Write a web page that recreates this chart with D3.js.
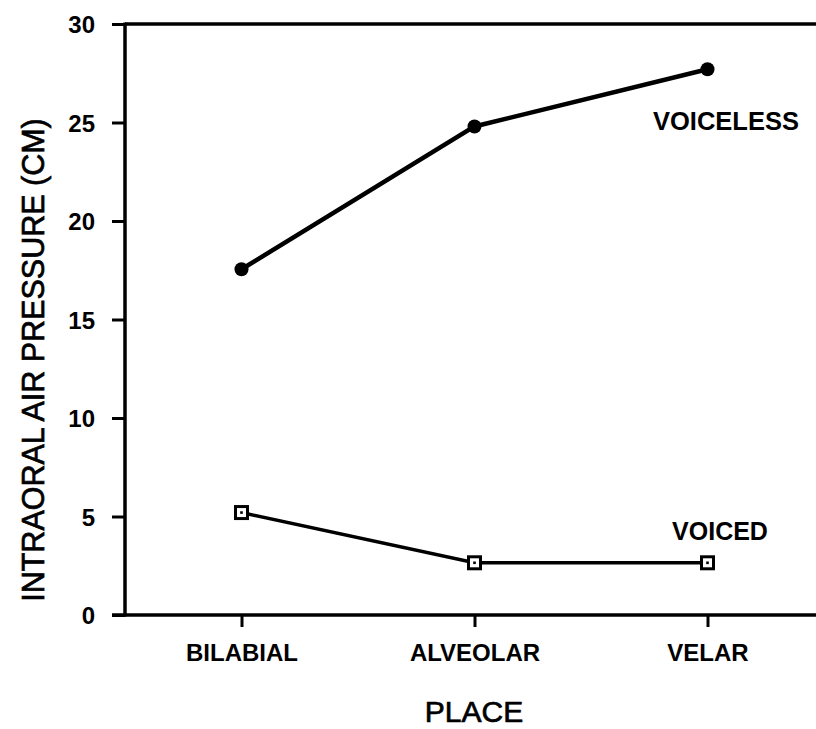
<!DOCTYPE html>
<html>
<head>
<meta charset="utf-8">
<script src="https://cdn.jsdelivr.net/npm/d3@7"></script>
<style>
  body { margin: 0; background: #fff; }
  text { font-family: "Liberation Sans", Arial, Helvetica, sans-serif; fill: #000; }
</style>
</head>
<body>
<div id="chart"></div>
<script>
// data
var places = ['BILABIAL', 'ALVEOLAR', 'VELAR']
var voiceless = [17.55, 24.8, 27.7]
var voiced = [5.2, 2.65, 2.65]
var yTicks = [0, 5, 10, 15, 20, 25, 30]

var width = 816
var height = 729
var plotLeft = 125, plotTop = 24, plotBottom = 615

var svg = d3.select('#chart').append('svg')
  .attr('width', width)
  .attr('height', height)

var x = d3.scalePoint()
  .domain(places)
  .range([plotLeft, plotLeft + 3 * 233])
  .padding(0.5)

var y = d3.scaleLinear()
  .domain([0, 30])
  .range([plotBottom, plotTop])

// y axis
var yAxis = svg.append('g')
  .attr('transform', 'translate(' + plotLeft + ',0)')
  .call(d3.axisLeft(y).tickValues(yTicks).tickSize(13).tickPadding(17))
yAxis.select('.domain').remove()
yAxis.selectAll('line').attr('stroke', '#000').attr('stroke-width', 3)
yAxis.selectAll('text')
  .attr('font-size', 24).attr('font-weight', 'bold')
  .attr('dy', '0.36em')

svg.append('line')
  .attr('x1', plotLeft).attr('x2', plotLeft)
  .attr('y1', plotTop - 1.5).attr('y2', plotBottom + 1.5)
  .attr('stroke', '#000').attr('stroke-width', 3.5)

// top frame line
svg.append('line')
  .attr('x1', plotLeft).attr('x2', width)
  .attr('y1', y(30)).attr('y2', y(30))
  .attr('stroke', '#000').attr('stroke-width', 3.5)

// x axis
var xAxis = svg.append('g')
  .attr('transform', 'translate(0,' + plotBottom + ')')
  .call(d3.axisBottom(x).tickSize(12).tickPadding(17))
xAxis.select('.domain').remove()
xAxis.selectAll('line').attr('stroke', '#000').attr('stroke-width', 3)
xAxis.selectAll('text')
  .attr('font-size', 24).attr('font-weight', 'bold')

svg.append('line')
  .attr('x1', plotLeft - 13).attr('x2', width)
  .attr('y1', plotBottom).attr('y2', plotBottom)
  .attr('stroke', '#000').attr('stroke-width', 3.5)

// lines
var line = d3.line()
  .x(function (d, i) { return x(places[i]) })
  .y(function (d) { return y(d) })

svg.append('path')
  .datum(voiceless)
  .attr('d', line)
  .attr('fill', 'none')
  .attr('stroke', '#000')
  .attr('stroke-width', 4.5)

svg.append('path')
  .datum(voiced)
  .attr('d', line)
  .attr('fill', 'none')
  .attr('stroke', '#000')
  .attr('stroke-width', 3.5)

svg.selectAll('.dot')
  .data(voiceless)
  .enter()
  .append('circle')
  .attr('class', 'dot')
  .attr('cx', function (d, i) { return x(places[i]) })
  .attr('cy', function (d) { return y(d) })
  .attr('r', 7)
  .attr('fill', '#000')

var sq = svg.selectAll('.sq')
  .data(voiced)
  .enter()
  .append('g')
  .attr('class', 'sq')
  .attr('transform', function (d, i) { return 'translate(' + x(places[i]) + ',' + y(d) + ')' })
sq.append('rect')
  .attr('x', -6).attr('y', -6)
  .attr('width', 12).attr('height', 12)
  .attr('fill', '#fff')
  .attr('stroke', '#000')
  .attr('stroke-width', 3)
sq.append('rect')
  .attr('x', -1.3).attr('y', -1.3)
  .attr('width', 2.6).attr('height', 2.6)
  .attr('fill', '#000')

// series labels
svg.append('text')
  .attr('x', 726).attr('y', 130)
  .attr('text-anchor', 'middle')
  .attr('font-size', 25.5).attr('font-weight', 'bold')
  .text('VOICELESS')

svg.append('text')
  .attr('x', 720).attr('y', 540)
  .attr('text-anchor', 'middle')
  .attr('font-size', 25).attr('font-weight', 'bold')
  .text('VOICED')

// axis titles
svg.append('text')
  .attr('x', 474).attr('y', 722)
  .attr('text-anchor', 'middle')
  .attr('font-size', 30)
  .attr('stroke', '#000').attr('stroke-width', 0.7)
  .text('PLACE')

svg.append('text')
  .attr('transform', 'translate(44,360) rotate(-90)')
  .attr('text-anchor', 'middle')
  .attr('font-size', 30.5)
  .attr('stroke', '#000').attr('stroke-width', 0.7)
  .text('INTRAORAL AIR PRESSURE (CM)')
</script>
</body>
</html>
